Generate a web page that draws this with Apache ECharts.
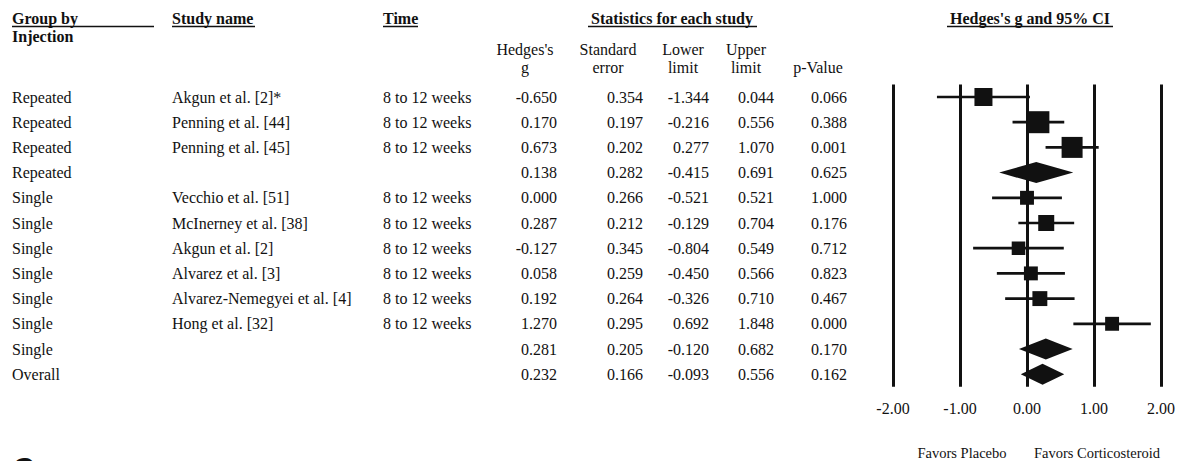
<!DOCTYPE html>
<html>
<head>
<meta charset="utf-8">
<script src="https://cdn.jsdelivr.net/npm/echarts@6/dist/echarts.min.js"></script>
<style>
html,body{margin:0;padding:0;background:#fff;}
#chart{width:1178px;height:461px;}
</style>
</head>
<body>
<div id="chart"></div>
<script>
// ---- data ----
const groups = ['Repeated','Repeated','Repeated','Repeated','Single','Single','Single','Single','Single','Single','Single','Overall'];
const studies = ['Akgun et al. [2]*','Penning et al. [44]','Penning et al. [45]','','Vecchio et al. [51]','McInerney et al. [38]','Akgun et al. [2]','Alvarez et al. [3]','Alvarez-Nemegyei et al. [4]','Hong et al. [32]','',''];
const times = ['8 to 12 weeks','8 to 12 weeks','8 to 12 weeks','','8 to 12 weeks','8 to 12 weeks','8 to 12 weeks','8 to 12 weeks','8 to 12 weeks','8 to 12 weeks','',''];
const hedgesG = [-0.650,0.170,0.673,0.138,0.000,0.287,-0.127,0.058,0.192,1.270,0.281,0.232];
const stdErr = [0.354,0.197,0.202,0.282,0.266,0.212,0.345,0.259,0.264,0.295,0.205,0.166];
const lowerLimit = [-1.344,-0.216,0.277,-0.415,-0.521,-0.129,-0.804,-0.450,-0.326,0.692,-0.120,-0.093];
const upperLimit = [0.044,0.556,1.070,0.691,0.521,0.704,0.549,0.566,0.710,1.848,0.682,0.556];
const pValue = [0.066,0.388,0.001,0.625,1.000,0.176,0.712,0.823,0.467,0.000,0.170,0.162];
const isSummary = [0,0,0,1,0,0,0,0,0,0,1,1];
const relWeight = [67,100,91,0,40,53,38,40,46,40,0,0]; // relative box weights
const tickLabels = ['-2.00','-1.00','0.00','1.00','2.00'];
const colHeaders = [['Hedges\'s','g'],['Standard','error'],['Lower','limit'],['Upper','limit'],['','p-Value']];

// ---- layout ----
const SERIF = '"Liberation Serif","Times New Roman",serif';
const FS = 16;
const INK = '#111';
const colRight = [557, 643, 709, 774, 847];
const colHeaderCenter = [525, 608, 683, 746, 818];
const maxBox = 22;

const rows = hedgesG.map((g, i) => [i, g, lowerLimit[i], upperLimit[i], isSummary[i], relWeight[i]]);

const chart = echarts.init(document.getElementById('chart'), null, {renderer: 'svg'});

function txt(x, y, text, align, bold, size) {
  return {
    type: 'text', x: x, y: y,
    style: {text: text, fill: INK, font: (bold ? 'bold ' : '') + (size || FS) + 'px ' + SERIF,
            align: align || 'left', verticalAlign: 'middle'}
  };
}

const graphics = [];
// headers
graphics.push(txt(12, 18, 'Group by', 'left', true));
graphics.push(txt(12, 36, 'Injection', 'left', true));
graphics.push(txt(172, 18, 'Study name', 'left', true));
graphics.push(txt(383, 18, 'Time', 'left', true));
graphics.push(txt(672, 18, 'Statistics for each study', 'center', true));
graphics.push(txt(1030, 18, 'Hedges\'s g and 95% CI', 'center', true));
const underlines = [[12,154],[172,255],[383,418],[588,757],[947,1113]];
underlines.forEach(u => graphics.push({type:'line', shape:{x1:u[0], y1:26.5, x2:u[1], y2:26.5}, style:{stroke:INK, lineWidth:1.5}}));
colHeaders.forEach((h, k) => {
  graphics.push(txt(colHeaderCenter[k], 49, h[0], 'center', false));
  graphics.push(txt(colHeaderCenter[k], 67, h[1], 'center', false));
});
graphics.push(txt(962, 453, 'Favors Placebo', 'center', false, 14.5));
graphics.push(txt(1097, 453, 'Favors Corticosteroid', 'center', false, 14.5));
graphics.push({type:'text', x: 13, y: 452, style:{text:'C', fill: INK, font:'bold 30px "Liberation Sans",Arial,sans-serif', verticalAlign:'top'}});

const option = {
  backgroundColor: '#fff',
  animation: false,
  grid: {left: 893, width: 272, top: 84.4, height: 302.4},
  xAxis: {
    type: 'value', min: -2, max: 2, interval: 1,
    axisLine: {show: false}, axisTick: {show: false},
    splitLine: {show: true, lineStyle: {color: INK, width: 3}},
    axisLabel: {margin: 14, color: INK, fontFamily: SERIF, fontSize: FS,
                formatter: (v, idx) => tickLabels[idx]}
  },
  yAxis: {
    type: 'value', min: -0.5, max: 11.5, inverse: true, show: false,
    splitLine: {show: false}
  },
  graphic: graphics,
  series: [
    {
      type: 'custom',
      data: rows,
      encode: {x: [1, 2, 3], y: 0},
      clip: false,
      renderItem: function (params, api) {
        const r = api.value(0), g = api.value(1), lo = api.value(2), hi = api.value(3);
        const summ = api.value(4), w = api.value(5);
        const pg = api.coord([g, r]), pl = api.coord([lo, r]), ph = api.coord([hi, r]);
        const y = pg[1];
        if (summ) {
          const hh = 10.5;
          return {type: 'polygon', shape: {points: [[pl[0], y], [pg[0], y - hh], [ph[0], y], [pg[0], y + hh]]},
                  style: {fill: INK}};
        }
        const s = maxBox * Math.sqrt(w / 100);
        return {type: 'group', children: [
          {type: 'line', shape: {x1: pl[0], y1: y, x2: ph[0], y2: y}, style: {stroke: INK, lineWidth: 2.7}},
          {type: 'rect', shape: {x: pg[0] - s / 2, y: y - s / 2, width: s, height: s}, style: {fill: INK}}
        ]};
      }
    },
    {
      type: 'custom',
      data: rows,
      encode: {x: 1, y: 0},
      clip: false,
      silent: true,
      renderItem: function (params, api) {
        const i = params.dataIndex;
        const y = api.coord([0, api.value(0)])[1];
        const vals = [hedgesG[i], stdErr[i], lowerLimit[i], upperLimit[i], pValue[i]];
        const children = [
          txt(12, y, groups[i], 'left', false),
          txt(172, y, studies[i], 'left', false),
          txt(383, y, times[i], 'left', false)
        ];
        vals.forEach((v, k) => children.push(txt(colRight[k], y, v.toFixed(3), 'right', false)));
        return {type: 'group', children: children};
      }
    }
  ]
};
chart.setOption(option);
</script>
</body>
</html>
